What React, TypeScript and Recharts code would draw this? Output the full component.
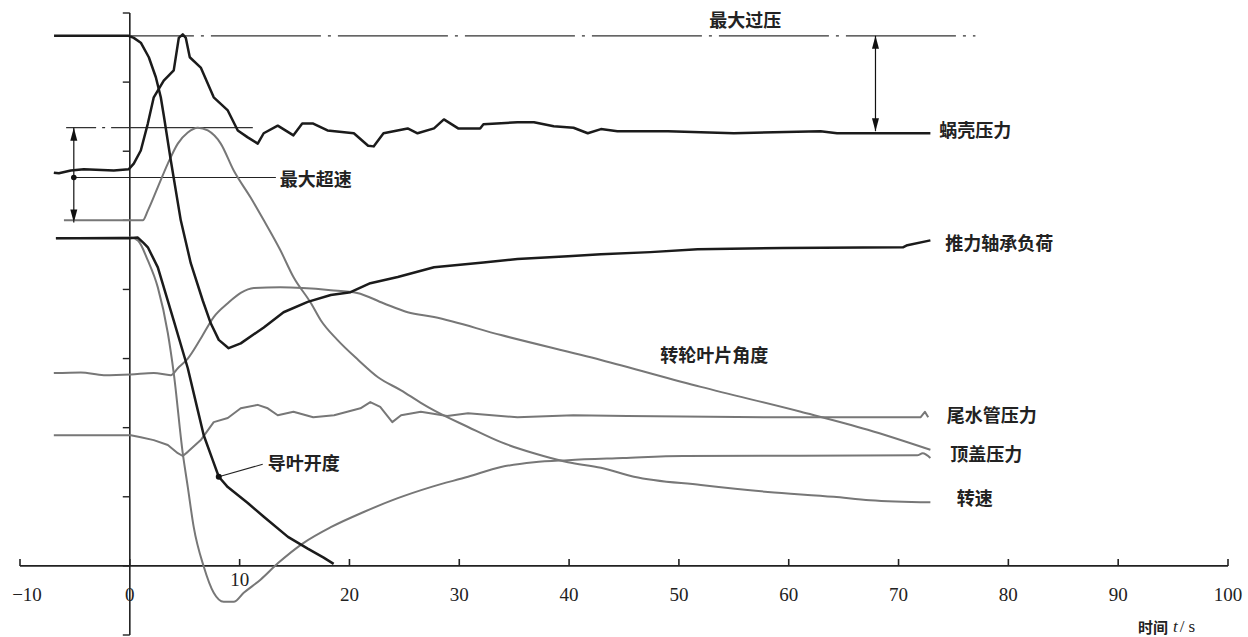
import React from 'react';
import { LineChart, Line, XAxis, YAxis, ReferenceLine, ReferenceDot } from 'recharts';

type Pt = [number, number];

// 推力轴承负荷
const thrustBearingLoad: Pt[] = [
  [-6.9, 7.67], [-0.1, 7.67], [0.36, 7.64], [1.0, 7.57], [1.73, 7.36], [2.37, 7.07], [2.82, 6.78],
  [3.09, 6.52], [3.73, 5.87], [4.64, 5.0], [5.55, 4.38], [6.64, 3.84], [7.37, 3.51], [8.1, 3.27],
  [9.0, 3.15], [10.1, 3.22], [12.2, 3.45], [14.0, 3.67], [16.2, 3.82], [18.3, 3.92], [20.1, 3.96],
  [21.9, 4.09], [24.4, 4.18], [27.7, 4.32], [32.2, 4.39], [35.3, 4.44], [39.9, 4.48], [42.9, 4.51],
  [47.4, 4.54], [51.7, 4.58], [59.5, 4.6], [70.4, 4.61], [70.8, 4.64], [72.9, 4.71],
];

// 蜗壳压力
const spiralCasePressure: Pt[] = [
  [-6.92, 5.69], [-6.46, 5.68], [-5.37, 5.72], [-4.19, 5.74], [-1.46, 5.72], [-0.09, 5.74], [0.36, 5.82],
  [1.0, 6.01], [1.64, 6.4], [2.18, 6.78], [3.09, 7.02], [4.0, 7.17], [4.46, 7.64], [4.82, 7.69],
  [5.1, 7.64], [5.46, 7.36], [6.46, 7.21], [7.64, 6.78], [8.92, 6.59], [9.83, 6.3], [10.74, 6.2],
  [11.65, 6.11], [12.19, 6.26], [13.47, 6.37], [14.9, 6.23], [15.7, 6.4], [16.7, 6.4], [18.0, 6.3],
  [20.4, 6.26], [21.7, 6.08], [22.2, 6.07], [23.1, 6.26], [25.3, 6.33], [26.2, 6.26], [27.7, 6.33],
  [28.6, 6.46], [29.9, 6.33], [31.9, 6.33], [32.2, 6.39], [35.3, 6.42], [36.8, 6.42], [38.6, 6.36],
  [40.4, 6.34], [41.7, 6.26], [42.9, 6.32], [44.4, 6.29], [49.0, 6.29], [55.0, 6.26], [62.9, 6.29],
  [64.4, 6.26], [72.9, 6.26],
];

// 转速
const rotationSpeed: Pt[] = [
  [-6.0, 5.0], [1.18, 5.0], [1.64, 5.14], [2.55, 5.48], [3.46, 5.82], [4.37, 6.11], [5.28, 6.27],
  [6.19, 6.34], [7.1, 6.3], [8.28, 6.11], [9.46, 5.72], [11.0, 5.33], [12.2, 5.0], [13.7, 4.57],
  [14.9, 4.18], [16.5, 3.8], [17.4, 3.55], [18.9, 3.27], [20.8, 2.98], [22.6, 2.73], [24.7, 2.54],
  [26.5, 2.36], [27.7, 2.25], [30.8, 2.01], [33.8, 1.79], [36.8, 1.63], [39.9, 1.5], [42.9, 1.42],
  [45.9, 1.29], [52.0, 1.17], [58.1, 1.07], [64.1, 1.0], [67.4, 0.95], [72.9, 0.92],
];

// 转轮叶片角度
const runnerBladeAngle: Pt[] = [
  [-6.92, 2.79], [-4.46, 2.8], [-2.37, 2.76], [0.09, 2.77], [2.18, 2.79], [3.73, 2.76], [4.37, 2.86],
  [5.28, 3.0], [6.46, 3.29], [7.64, 3.6], [8.92, 3.8], [10.1, 3.95], [11.3, 4.02], [13.7, 4.03],
  [18.3, 3.99], [20.7, 3.95], [23.1, 3.8], [25.3, 3.67], [27.7, 3.6], [33.8, 3.34], [42.9, 2.98],
  [52.0, 2.59], [61.1, 2.23], [67.2, 1.97], [72.9, 1.68],
];

// 尾水管压力
const draftTubePressure: Pt[] = [
  [-6.92, 1.89], [0.09, 1.89], [1.0, 1.86], [2.18, 1.82], [3.46, 1.75], [4.37, 1.63], [4.82, 1.59],
  [5.28, 1.65], [6.46, 1.82], [7.64, 2.08], [8.92, 2.14], [10.1, 2.28], [11.65, 2.33], [12.56, 2.28],
  [13.47, 2.18], [14.9, 2.23], [16.7, 2.15], [18.6, 2.18], [21.0, 2.28], [21.9, 2.37], [22.8, 2.3],
  [23.9, 2.08], [24.7, 2.18], [26.5, 2.23], [28.9, 2.17], [30.8, 2.21], [35.3, 2.15], [40.4, 2.18],
  [45.3, 2.17], [58.1, 2.15], [72.0, 2.15], [72.4, 2.23], [72.7, 2.15],
];

// 顶盖压力
const headCoverPressure: Pt[] = [
  [-6.73, 4.74], [0.09, 4.75], [0.73, 4.71], [1.64, 4.42], [2.55, 4.03], [3.46, 3.37], [4.0, 2.79],
  [4.82, 1.63], [5.28, 1.14], [5.82, 0.56], [6.73, -0.01], [7.64, -0.39], [8.55, -0.52], [9.46, -0.52],
  [10.37, -0.39], [11.9, -0.2], [13.5, 0.04], [15.8, 0.33], [18.3, 0.56], [21.3, 0.78], [24.4, 0.98],
  [27.4, 1.14], [30.8, 1.29], [33.8, 1.43], [36.8, 1.5], [39.9, 1.53], [44.9, 1.56], [50.4, 1.59],
  [71.7, 1.6], [72.2, 1.63], [72.9, 1.56],
];

// 导叶开度
const guideVaneOpening: Pt[] = [
  [-6.73, 4.74], [-0.09, 4.74], [0.73, 4.75], [1.27, 4.67], [1.64, 4.61], [2.55, 4.32], [4.0, 3.55],
  [5.28, 2.86], [6.19, 2.25], [6.73, 1.89], [7.55, 1.53], [8.1, 1.29], [8.92, 1.14], [10.74, 0.91],
  [12.2, 0.71], [14.4, 0.42], [16.2, 0.25], [17.65, 0.12], [18.56, 0.03],
];

const xTicks = [-10, 0, 10, 20, 30, 40, 50, 60, 70, 80, 90, 100];
const xTickLabels = ['−10', '0', '10', '20', '30', '40', '50', '60', '70', '80', '90', '100'];
const yTicks = [-1, 0, 1, 2, 3, 4, 5, 6, 7, 8];

const maxOverPressure = 7.67;
const maxSpeedLevel = 6.34;

const rows = (pts: Pt[]) => pts.map(([t, v]) => ({ t, v }));

const BLACK = '#1b1b1b';
const GRAY = '#777777';
const CJK = '"Noto Sans CJK SC", "Noto Sans CJK JP", sans-serif';
const SERIF = '"Liberation Serif", "DejaVu Serif", serif';

const textShape =
  (text: string, anchor: 'start' | 'middle' | 'end', dx = 0, dy = 0, size = 18, family = CJK, weight = 600) =>
  (p: any) => (
    <text
      x={p.cx + dx}
      y={p.cy + dy}
      textAnchor={anchor}
      dominantBaseline="central"
      fontFamily={family}
      fontSize={size}
      fontWeight={weight}
      fill="#222"
    >
      {text}
    </text>
  );

const arrowHead = (dir: 'up' | 'down') => (p: any) => {
  const s = dir === 'up' ? 1 : -1;
  return (
    <polygon
      points={`${p.cx},${p.cy} ${p.cx - 3.5},${p.cy + 13 * s} ${p.cx + 3.5},${p.cy + 13 * s}`}
      fill="#111"
    />
  );
};

const dotShape = (r: number) => (p: any) => <circle cx={p.cx} cy={p.cy} r={r} fill="#111" />;

const series = [
  { key: 'draft', data: draftTubePressure, color: GRAY, w: 2, type: 'linear' },
  { key: 'blade', data: runnerBladeAngle, color: GRAY, w: 2, type: 'monotone' },
  { key: 'head', data: headCoverPressure, color: GRAY, w: 2, type: 'monotone' },
  { key: 'speed', data: rotationSpeed, color: GRAY, w: 2, type: 'monotone' },
  { key: 'spiral', data: spiralCasePressure, color: BLACK, w: 2.5, type: 'linear' },
  { key: 'thrust', data: thrustBearingLoad, color: BLACK, w: 2.5, type: 'linear' },
  { key: 'guide', data: guideVaneOpening, color: BLACK, w: 2.5, type: 'linear' },
];

export default function App() {
  return (
    <div style={{ position: 'absolute', left: 0, top: 0, width: 1248, height: 637, background: '#fff' }}>
      <LineChart width={1248} height={637} margin={{ top: 13, right: 20, bottom: 2, left: 20 }}>
        <XAxis type="number" dataKey="t" domain={[-10, 100]} hide allowDataOverflow />
        <YAxis type="number" dataKey="v" domain={[-1, 8]} hide allowDataOverflow />

        {/* axes */}
        <ReferenceLine y={0} stroke="#222" strokeWidth={1.6} />
        <ReferenceLine x={0} stroke="#222" strokeWidth={1.6} />
        {xTicks.map((t) => (
          <ReferenceLine key={`xt${t}`} segment={[{ x: t, y: 0 }, { x: t, y: 0.1 }]} stroke="#222" strokeWidth={1.6} />
        ))}
        {yTicks.map((v) => (
          <ReferenceLine key={`yt${v}`} segment={[{ x: 0, y: v }, { x: -0.64, y: v }]} stroke="#222" strokeWidth={1.4} />
        ))}
        {xTicks.map((t, i) => (
          <ReferenceDot
            key={`xl${t}`}
            x={t}
            y={0}
            shape={textShape(xTickLabels[i], 'middle', t === -10 ? 7 : 0, t === 10 ? 14 : 29, 19, SERIF, 400)}
          />
        ))}
        <ReferenceDot
          x={91.8}
          y={-0.87}
          shape={(p: any) => (
            <text x={p.cx} y={p.cy} dominantBaseline="central" fontSize={15} fill="#222" fontFamily={CJK} fontWeight={600}>
              时间
              <tspan fontFamily={SERIF} fontStyle="italic" fontWeight={400} fontSize={17} dx={5}>t</tspan>
              <tspan fontFamily={SERIF} fontWeight={400} fontSize={17} dx={2}>/</tspan>
              <tspan fontFamily={SERIF} fontWeight={400} fontSize={17} dx={4}>s</tspan>
            </text>
          )}
        />

        {/* 最大过压 annotation */}
        <ReferenceLine
          segment={[{ x: 0.1, y: maxOverPressure }, { x: 77, y: maxOverPressure }]}
          stroke="#333"
          strokeWidth={1.2}
          strokeDasharray="110 7 3 7"
          strokeDashoffset={-80}
        />
        <ReferenceLine segment={[{ x: 67.9, y: maxOverPressure }, { x: 67.9, y: 6.29 }]} stroke="#111" strokeWidth={1.2} />
        <ReferenceDot x={67.9} y={maxOverPressure} shape={arrowHead('up')} />
        <ReferenceDot x={67.9} y={6.29} shape={arrowHead('down')} />
        <ReferenceDot x={56.05} y={7.92} shape={textShape('最大过压', 'middle')} />

        {/* 最大超速 annotation */}
        <ReferenceLine
          segment={[{ x: -5.8, y: maxSpeedLevel }, { x: 11.2, y: maxSpeedLevel }]}
          stroke="#333"
          strokeWidth={1.2}
          strokeDasharray="30 6 3 6 200"
        />
        <ReferenceLine segment={[{ x: -5.1, y: maxSpeedLevel }, { x: -5.1, y: 4.97 }]} stroke="#111" strokeWidth={1.2} />
        <ReferenceDot x={-5.1} y={maxSpeedLevel} shape={arrowHead('up')} />
        <ReferenceDot x={-5.1} y={4.97} shape={arrowHead('down')} />
        <ReferenceLine segment={[{ x: -5.1, y: 5.62 }, { x: 13.3, y: 5.62 }]} stroke="#222" strokeWidth={1.1} />
        <ReferenceDot x={-5.1} y={5.62} shape={dotShape(2.8)} />
        <ReferenceDot x={13.65} y={5.61} shape={textShape('最大超速', 'start')} />

        {/* 导叶开度 leader */}
        <ReferenceLine segment={[{ x: 8.1, y: 1.29 }, { x: 12.1, y: 1.47 }]} stroke="#222" strokeWidth={1.1} />

        {series.map((s) => (
          <Line
            key={s.key}
            data={rows(s.data)}
            dataKey="v"
            type={s.type as any}
            stroke={s.color}
            strokeWidth={s.w}
            dot={false}
            activeDot={false}
            isAnimationActive={false}
            strokeLinejoin="round"
          />
        ))}

        <ReferenceDot x={8.1} y={1.29} shape={dotShape(3)} />

        {/* series labels */}
        <ReferenceDot x={73.7} y={6.32} shape={textShape('蜗壳压力', 'start')} />
        <ReferenceDot x={74.25} y={4.68} shape={textShape('推力轴承负荷', 'start')} />
        <ReferenceDot x={48.3} y={3.06} shape={textShape('转轮叶片角度', 'start')} />
        <ReferenceDot x={74.4} y={2.2} shape={textShape('尾水管压力', 'start')} />
        <ReferenceDot x={74.7} y={1.63} shape={textShape('顶盖压力', 'start')} />
        <ReferenceDot x={75.3} y={1.0} shape={textShape('转速', 'start')} />
        <ReferenceDot x={12.56} y={1.5} shape={textShape('导叶开度', 'start')} />
      </LineChart>
    </div>
  );
}
